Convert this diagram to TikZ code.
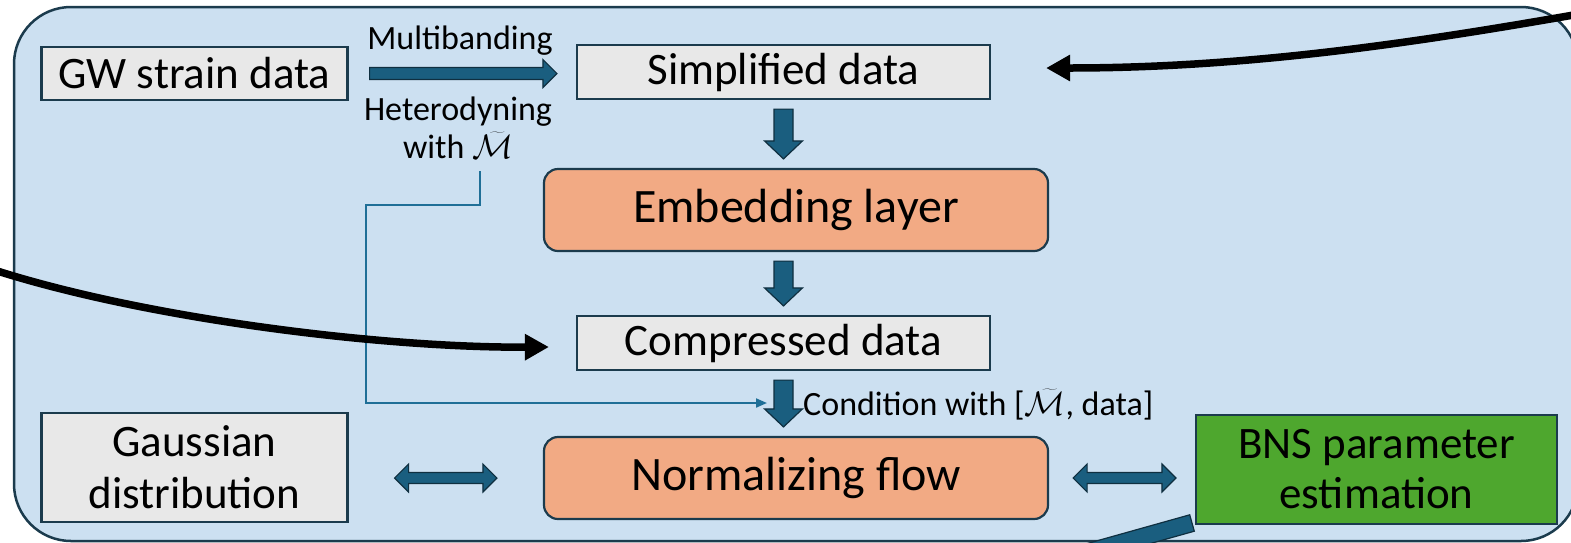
\documentclass[tikz,border=0pt]{standalone}
\usepackage{fix-cm}
\usepackage{fontspec}
\setmainfont{Carlito}
\usetikzlibrary{calc,arrows.meta}
\definecolor{bgblue}{HTML}{CCE0F1}
\definecolor{framec}{HTML}{1B3B4D}
\definecolor{boxgray}{HTML}{E8E8E8}
\definecolor{salmonc}{HTML}{F2AA84}
\definecolor{grnc}{HTML}{4EA72E}
\definecolor{tealc}{HTML}{1A5E7F}
\definecolor{tealdark}{HTML}{0F2F40}
\definecolor{thinc}{HTML}{1F6F97}

\tikzset{
  graybox/.style={draw=framec, line width=2.2pt, fill=boxgray, inner sep=0pt,
    font=\fontsize{45}{52}\selectfont, align=center},
  orangebox/.style={draw=framec, line width=2.2pt, fill=salmonc, inner sep=0pt,
    rounded corners=14pt, font=\fontsize{48}{56}\selectfont},
  greenbox/.style={draw=framec, line width=2.2pt, fill=grnc, inner sep=0pt,
    font=\fontsize{45}{50}\selectfont, align=center},
  lbl/.style={inner sep=0pt, font=\fontsize{34}{38}\selectfont, align=center},
  fat/.style={fill=tealc, draw=tealdark, line width=1.2pt, line join=miter},
  blackcurve/.style={line width=7.5pt, -{Triangle[length=24pt,width=25pt]}},
  thinline/.style={draw=thinc, line width=2pt, -{Triangle[length=11pt,width=9pt]}}
}

\newcommand\fatdown[3]{\draw[fat] let \p1=(#1.south), \p2=(#2.north), \p3=(#3.center) in
  (\x3-9.5pt,\y1-9pt) -- (\x3+9.5pt,\y1-9pt) -- (\x3+9.5pt,\y2+27pt) -- (\x3+19pt,\y2+27pt)
  -- (\x3,\y2+9pt) -- (\x3-19pt,\y2+27pt) -- (\x3-9.5pt,\y2+27pt) -- cycle;}
\newcommand\fatright[2]{\draw[fat] let \p1=(#1.east), \p2=(#2.west) in
  (\x1+21pt,\y1+6pt) -- (\x2-33pt,\y1+6pt) -- (\x2-33pt,\y1+14pt) -- (\x2-19pt,\y1)
  -- (\x2-33pt,\y1-14pt) -- (\x2-33pt,\y1-6pt) -- (\x1+21pt,\y1-6pt) -- cycle;}
\newcommand\fatlr[5]{\draw[fat] let \p1=(#1.east), \p2=(#2.west), \p3=(#5.center) in
  (\x1+#3,\y3) -- (\x1+#3+14pt,\y3+14pt) -- (\x1+#3+14pt,\y3+5.5pt) -- (\x2-#4-14pt,\y3+5.5pt)
  -- (\x2-#4-14pt,\y3+14pt) -- (\x2-#4,\y3) -- (\x2-#4-14pt,\y3-14pt) -- (\x2-#4-14pt,\y3-5.5pt)
  -- (\x1+#3+14pt,\y3-5.5pt) -- (\x1+#3+14pt,\y3-14pt) -- cycle;}

\begin{document}
\begin{tikzpicture}[x=1pt,y=-1pt]
\clip (0,0) rectangle (1571,542);
\fill[white] (0,0) rectangle (1571,542);
% outer frame
\draw[framec, line width=2.5pt, fill=bgblue, rounded corners=57pt] (14,7) rectangle (1578,541);

% boxes
\node[graybox, minimum width=306pt, minimum height=53pt] (gw) at (194.5,73.5) {GW strain data};
\node[graybox, minimum width=413pt, minimum height=54pt] (simp) at (783.5,72) {Simplified data};
\node[orangebox, minimum width=504pt, minimum height=82pt] (emb) at (796,210) {Embedding layer};
\node[graybox, minimum width=413pt, minimum height=54pt] (comp) at (783.5,343) {Compressed data};
\node[orangebox, minimum width=504pt, minimum height=82pt] (nf) at (796,478) {Normalizing flow};
\node[graybox, minimum width=306pt, minimum height=109pt] (gauss) at (194.5,467.5) {Gaussian\\distribution};
\node[greenbox, minimum width=361pt, minimum height=109pt] (bns) at (1376.5,469.5) {BNS parameter\\estimation};

% labels
\node[lbl] (mb) at (460,41) {Multibanding};
\node[lbl] (het) at (458,128) {Heterodyning\\with $\widetilde{\mathcal{M}}$};
\node[lbl, anchor=west] (cond) at (803,405) {Condition with [$\widetilde{\mathcal{M}}$, data]};

% fat arrows
\fatright{gw}{simp}
\fatdown{simp}{emb}{simp}
\fatdown{emb}{comp}{comp}
\fatdown{comp}{nf}{comp}
\fatlr{gauss}{nf}{46pt}{46pt}{nf}
\fatlr{nf}{bns}{24pt}{19pt}{nf}

% thin conditioning line
\coordinate (tstart) at (480,171);
\coordinate (tend) at (767,403);
\draw[thinline] (tstart) -- (480,205) -- (366,205) -- (366,403) -- (tend);

% thick black curves
\coordinate (trsrc) at (1585,13);
\draw[blackcurve] (trsrc) .. controls (1420,42) and (1250,68) .. ([xshift=55pt,yshift=4pt]simp.east);
\coordinate (lsrc) at (-12,268);
\draw[blackcurve] (lsrc) .. controls (140,318) and (380,348) .. ([xshift=-27pt,yshift=-4pt]comp.west);

% cropped fat arrow at bottom
\draw[fat] (1189.7,514.8) -- (1194.3,531.2) -- (1001.7,585.2) -- (997.1,568.8) -- cycle;
\end{tikzpicture}
\end{document}
